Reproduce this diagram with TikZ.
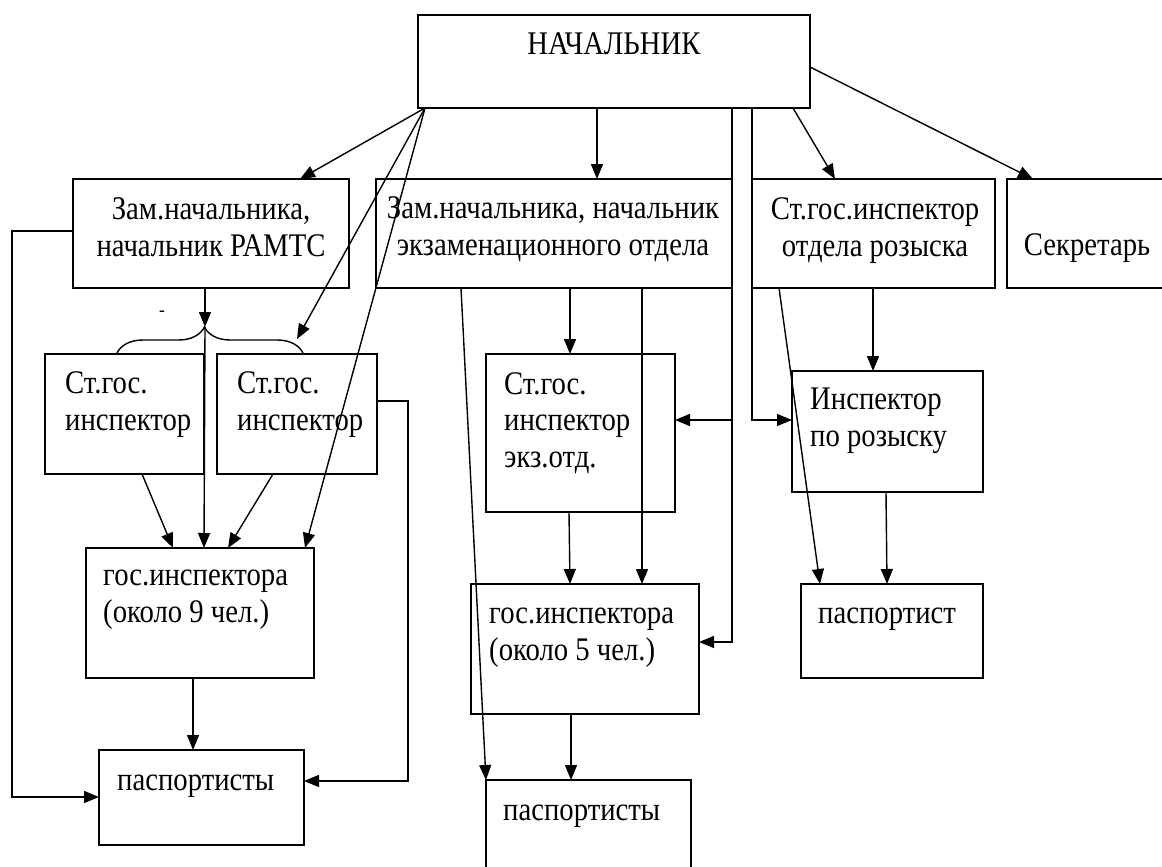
\documentclass[tikz,border=0pt]{standalone}
\usepackage{fontspec}
\setmainfont{Liberation Serif}[FakeStretch=0.87]
\usetikzlibrary{arrows.meta,decorations.pathreplacing}
\begin{document}
\begin{tikzpicture}[x=1pt,y=-1pt,
  box/.style={draw, line width=1.6pt, rectangle, inner sep=0pt, outer sep=0pt, anchor=north west},
  txt/.style={font=\fontsize{33}{36.5}\selectfont, inner sep=0pt, align=left, anchor=base west},
  ctxt/.style={txt, align=center, anchor=base},
  con/.style={line width=1.4pt, -{Triangle[length=15pt,width=12pt]}},
  ln/.style={line width=1.4pt}]
\useasboundingbox[fill=white] (0,0) rectangle (1162,867);

% boxes
\node[box, minimum width=392pt, minimum height=93pt]  (nach)   at (418,15)  {};
\node[box, minimum width=276pt, minimum height=109pt] (ramts)  at (73,179)  {};
\node[box, minimum width=356pt, minimum height=109pt] (exam)   at (376,179) {};
\node[box, minimum width=243pt, minimum height=109pt] (rozysk) at (752,179) {};
\node[box, minimum width=200pt, minimum height=109pt] (secr)   at (1007,179) {};
\node[box, minimum width=159pt, minimum height=120pt] (sg1)    at (45,354)  {};
\node[box, minimum width=160pt, minimum height=120pt] (sg2)    at (217,354) {};
\node[box, minimum width=228pt, minimum height=130pt] (gi9)    at (86,548)  {};
\node[box, minimum width=205pt, minimum height=95pt]  (pas1)   at (99,750)  {};
\node[box, minimum width=189pt, minimum height=158pt] (sge)    at (486,354) {};
\node[box, minimum width=191pt, minimum height=121pt] (inpr)   at (792,371) {};
\node[box, minimum width=228pt, minimum height=130pt] (gi5)    at (471,584) {};
\node[box, minimum width=205pt, minimum height=120pt] (pas2)   at (486,780) {};
\node[box, minimum width=182pt, minimum height=94pt]  (pst)    at (801,584) {};

% texts (anchor = baseline of the last line)
\node[ctxt] (tnach)   at (614,55)  {НАЧАЛЬНИК};
\node[ctxt] (tramts)  at (211,256) {Зам.начальника,\\начальник РАМТС};
\node[ctxt] (texam)   at (553,255) {Зам.начальника, начальник\\экзаменационного отдела};
\node[ctxt] (trozysk) at (875,256) {Ст.гос.инспектор\\отдела розыска};
\node[ctxt] (tsecr)   at (1087,255) {Секретарь};
\node[txt]  (tsg1)    at (65,430)  {Ст.гос.\\инспектор};
\node[txt]  (tsg2)    at (237,430) {Ст.гос.\\инспектор};
\node[txt]  (tsge)    at (504,467) {Ст.гос.\\инспектор\\экз.отд.};
\node[txt]  (tinpr)   at (810,446) {Инспектор\\по розыску};
\node[txt]  (tgi9)    at (103,622) {гос.инспектора\\(около 9 чел.)};
\node[txt]  (tgi5)    at (489,660) {гос.инспектора\\(около 5 чел.)};
\node[txt]  (tpas1)   at (117,790) {паспортисты};
\node[txt]  (tpas2)   at (503,820) {паспортисты};
\node[txt]  (tpst)    at (818,623) {паспортист};
\node[font=\fontsize{20}{20}\selectfont, inner sep=0pt] (tdash) at (162,314) {-};

% brace over the two Ст.гос. boxes
\draw[ln, decorate, decoration={brace, amplitude=26pt, aspect=0.47}] (117,353) -- (303,353);
\coordinate (brT) at (205,327);
\coordinate (brR) at (297,339);

% connectors from НАЧАЛЬНИК
\coordinate (nsw) at ([xshift=7pt]nach.south west);
\draw[con] (nsw) -- ([xshift=227pt]ramts.north west);
\draw[con] (nsw) -- (brR);
\draw[con] (nsw) -- ([xshift=219pt]gi9.north west);
\draw[con] ([xshift=179pt]nach.south west) -- ([xshift=221pt]exam.north west);
\coordinate (gi5R) at ([yshift=-58pt]gi5.north east);
\draw[con] (nach.south -| exam.east) |- (gi5R);
\coordinate (sgeR) at ([yshift=-66pt]sge.north east);
\draw[con] (exam.east |- sgeR) -- (sgeR);
\coordinate (inprL) at ([yshift=-49pt]inpr.north west);
\draw[con] (nach.south -| rozysk.west) |- (inprL);
\draw[con] ([xshift=375pt]nach.south west) -- ([xshift=83pt]rozysk.north west);
\draw[con] ([yshift=-52pt]nach.north east) -- ([xshift=26pt]secr.north west);

% left branch
\draw[con] ([yshift=-52pt]ramts.north west) -- ++(-61,0) |- ([yshift=-47pt]pas1.north west);
\draw[con] ([xshift=132pt]ramts.south west) -- (brT);
\draw[con] (brT) -- ([xshift=118pt]gi9.north west);
\draw[con] ([xshift=97pt]sg1.south west) -- ([xshift=87pt]gi9.north west);
\draw[con] ([xshift=56pt]sg2.south west) -- ([xshift=142pt]gi9.north west);
\draw[con] ([yshift=-47pt]sg2.north east) -- ++(31,0) |- ([yshift=-31pt]pas1.north east);
\draw[con] ([xshift=107pt]gi9.south west) -- ([xshift=94pt]pas1.north west);

% exam branch
\coordinate (sgeT) at ([xshift=84pt]sge.north west);
\draw[con] (exam.south -| sgeT) -- (sgeT);
\coordinate (gi5T) at ([xshift=171pt]gi5.north west);
\draw[con] (exam.south -| gi5T) -- (gi5T);
\draw[con] ([xshift=85pt]exam.south west) -- (pas2.north west);
\draw[con] ([xshift=83pt]sge.south west) -- ([xshift=99pt]gi5.north west);
\draw[con] ([xshift=100pt]gi5.south west) -- ([xshift=85pt]pas2.north west);

% rozysk branch
\draw[con] ([xshift=27pt]rozysk.south west) -- ([xshift=19pt]pst.north west);
\coordinate (inprT) at ([xshift=81pt]inpr.north west);
\draw[con] (rozysk.south -| inprT) -- (inprT);
\draw[con] ([xshift=94pt]inpr.south west) -- ([xshift=86pt]pst.north west);
\end{tikzpicture}
\end{document}
